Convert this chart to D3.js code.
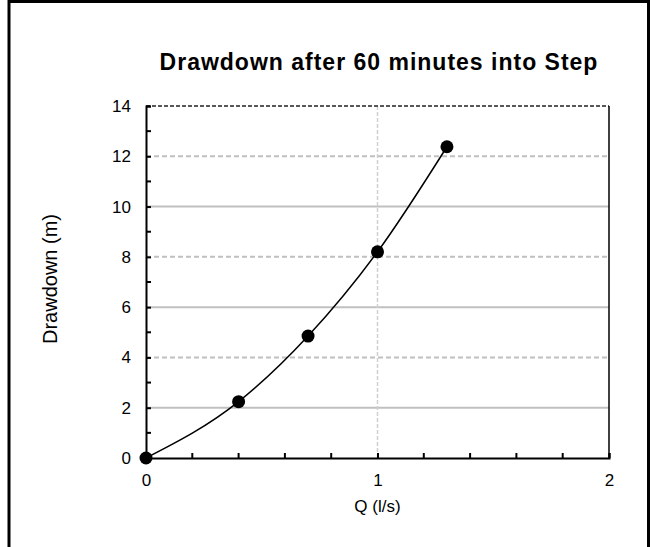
<!DOCTYPE html>
<html>
<head>
<meta charset="utf-8">
<script src="https://cdn.jsdelivr.net/npm/d3@7/dist/d3.min.js"></script>
<style>
  html, body { margin: 0; padding: 0; background: #fff; }
  svg { display: block; font-family: "Liberation Sans", Arial, sans-serif; }
</style>
</head>
<body>
<svg id="chart" width="651" height="547"></svg>
<script>
// Step-test results: pumping rate vs drawdown after 60 minutes
const flowRates = [0, 0.4, 0.7, 1.0, 1.3];          // Q (l/s)
const drawdowns = [0, 2.24, 4.85, 8.2, 12.38];       // s (m)
const xTickValues = [0, 1, 2];
const yTickValues = [0, 2, 4, 6, 8, 10, 12, 14];
const xMinorTicks = [0.2, 0.4, 0.6, 0.8, 1.2, 1.4, 1.6, 1.8];
const yMinorTicks = [1, 3, 5, 7, 9, 11, 13];
const solidGridValues = [2, 6, 10];
const dashedGridValues = [4, 8, 12];

const svg = d3.select("#chart");
const H = 547;

// outer frame (open at the bottom edge)
svg.append("path")
  .attr("d", `M9,${H + 2} V1.5 H648.5 V${H + 2}`)
  .attr("fill", "none").attr("stroke", "#000").attr("stroke-width", 3);

const plot = { left: 146, right: 609, top: 106, bottom: 458 };
const x = d3.scaleLinear().domain([0, 2]).range([plot.left, plot.right]);
const y = d3.scaleLinear().domain([0, 14]).range([plot.bottom, plot.top]);

// horizontal gridlines
svg.append("g").selectAll("line").data(solidGridValues).join("line")
  .attr("x1", plot.left).attr("x2", plot.right)
  .attr("y1", d => y(d)).attr("y2", d => y(d))
  .attr("stroke", "#c0c0c0").attr("stroke-width", 2);
svg.append("g").selectAll("line").data(dashedGridValues).join("line")
  .attr("x1", plot.left).attr("x2", plot.right)
  .attr("y1", d => y(d)).attr("y2", d => y(d))
  .attr("stroke", "#c0c0c0").attr("stroke-width", 2)
  .attr("stroke-dasharray", "5,3");
// vertical gridline at Q = 1
svg.append("line")
  .attr("x1", x(1)).attr("x2", x(1)).attr("y1", plot.top).attr("y2", plot.bottom)
  .attr("stroke", "#d0d0d0").attr("stroke-width", 1.5)
  .attr("stroke-dasharray", "4,2");

// plot frame: dashed top, solid right
svg.append("line")
  .attr("x1", plot.left).attr("x2", plot.right).attr("y1", plot.top).attr("y2", plot.top)
  .attr("stroke", "#222").attr("stroke-width", 1.5).attr("stroke-dasharray", "4,2");
svg.append("line")
  .attr("x1", plot.right).attr("x2", plot.right).attr("y1", plot.top).attr("y2", plot.bottom)
  .attr("stroke", "#000").attr("stroke-width", 1.5);

// axes with inward ticks
const xAxis = d3.axisBottom(x).tickValues(xTickValues).tickSize(-5).tickPadding(16).tickFormat(d3.format("d"));
const yAxis = d3.axisLeft(y).tickValues(yTickValues).tickSize(-5).tickPadding(15).tickFormat(d3.format("d"));

const gx = svg.append("g").attr("transform", `translate(0,${plot.bottom})`).call(xAxis);
const gy = svg.append("g").attr("transform", `translate(${plot.left},0)`).call(yAxis);
[gx, gy].forEach(g => {
  g.attr("font-size", null).attr("font-family", null);
  g.select(".domain").attr("stroke", "#000").attr("stroke-width", 2);
  g.selectAll(".tick line").attr("stroke", "#000").attr("stroke-width", 2);
  g.selectAll(".tick text").attr("fill", "#000").style("font-size", "17px")
    .style("font-family", "'Liberation Sans', Arial, sans-serif");
});

// minor ticks
svg.append("g").selectAll("line").data(xMinorTicks).join("line")
  .attr("x1", d => x(d)).attr("x2", d => x(d))
  .attr("y1", plot.bottom).attr("y2", plot.bottom - 5)
  .attr("stroke", "#000").attr("stroke-width", 2);
svg.append("g").selectAll("line").data(yMinorTicks).join("line")
  .attr("x1", plot.left).attr("x2", plot.left + 5)
  .attr("y1", d => y(d)).attr("y2", d => y(d))
  .attr("stroke", "#000").attr("stroke-width", 2);

// smooth curve through the measured points
const pts = flowRates.map((q, i) => [q, drawdowns[i]]);
svg.append("path")
  .datum(pts)
  .attr("fill", "none").attr("stroke", "#000").attr("stroke-width", 1.5)
  .attr("d", d3.line().x(d => x(d[0])).y(d => y(d[1])).curve(d3.curveMonotoneX));

// markers
svg.append("g").selectAll("circle").data(pts).join("circle")
  .attr("cx", d => x(d[0])).attr("cy", d => y(d[1])).attr("r", 6.5)
  .attr("fill", "#000");

// title and axis labels
svg.append("text")
  .attr("x", 379).attr("y", 70).attr("text-anchor", "middle")
  .style("font-size", "23px").style("font-weight", "bold").style("letter-spacing", "1px")
  .text("Drawdown after 60 minutes into Step");
svg.append("text")
  .attr("x", x(1)).attr("y", 512).attr("text-anchor", "middle")
  .style("font-size", "17px")
  .text("Q (l/s)");
svg.append("text")
  .attr("transform", `translate(57,279) rotate(-90)`)
  .attr("text-anchor", "middle")
  .style("font-size", "20px")
  .text("Drawdown (m)");
</script>
</body>
</html>
